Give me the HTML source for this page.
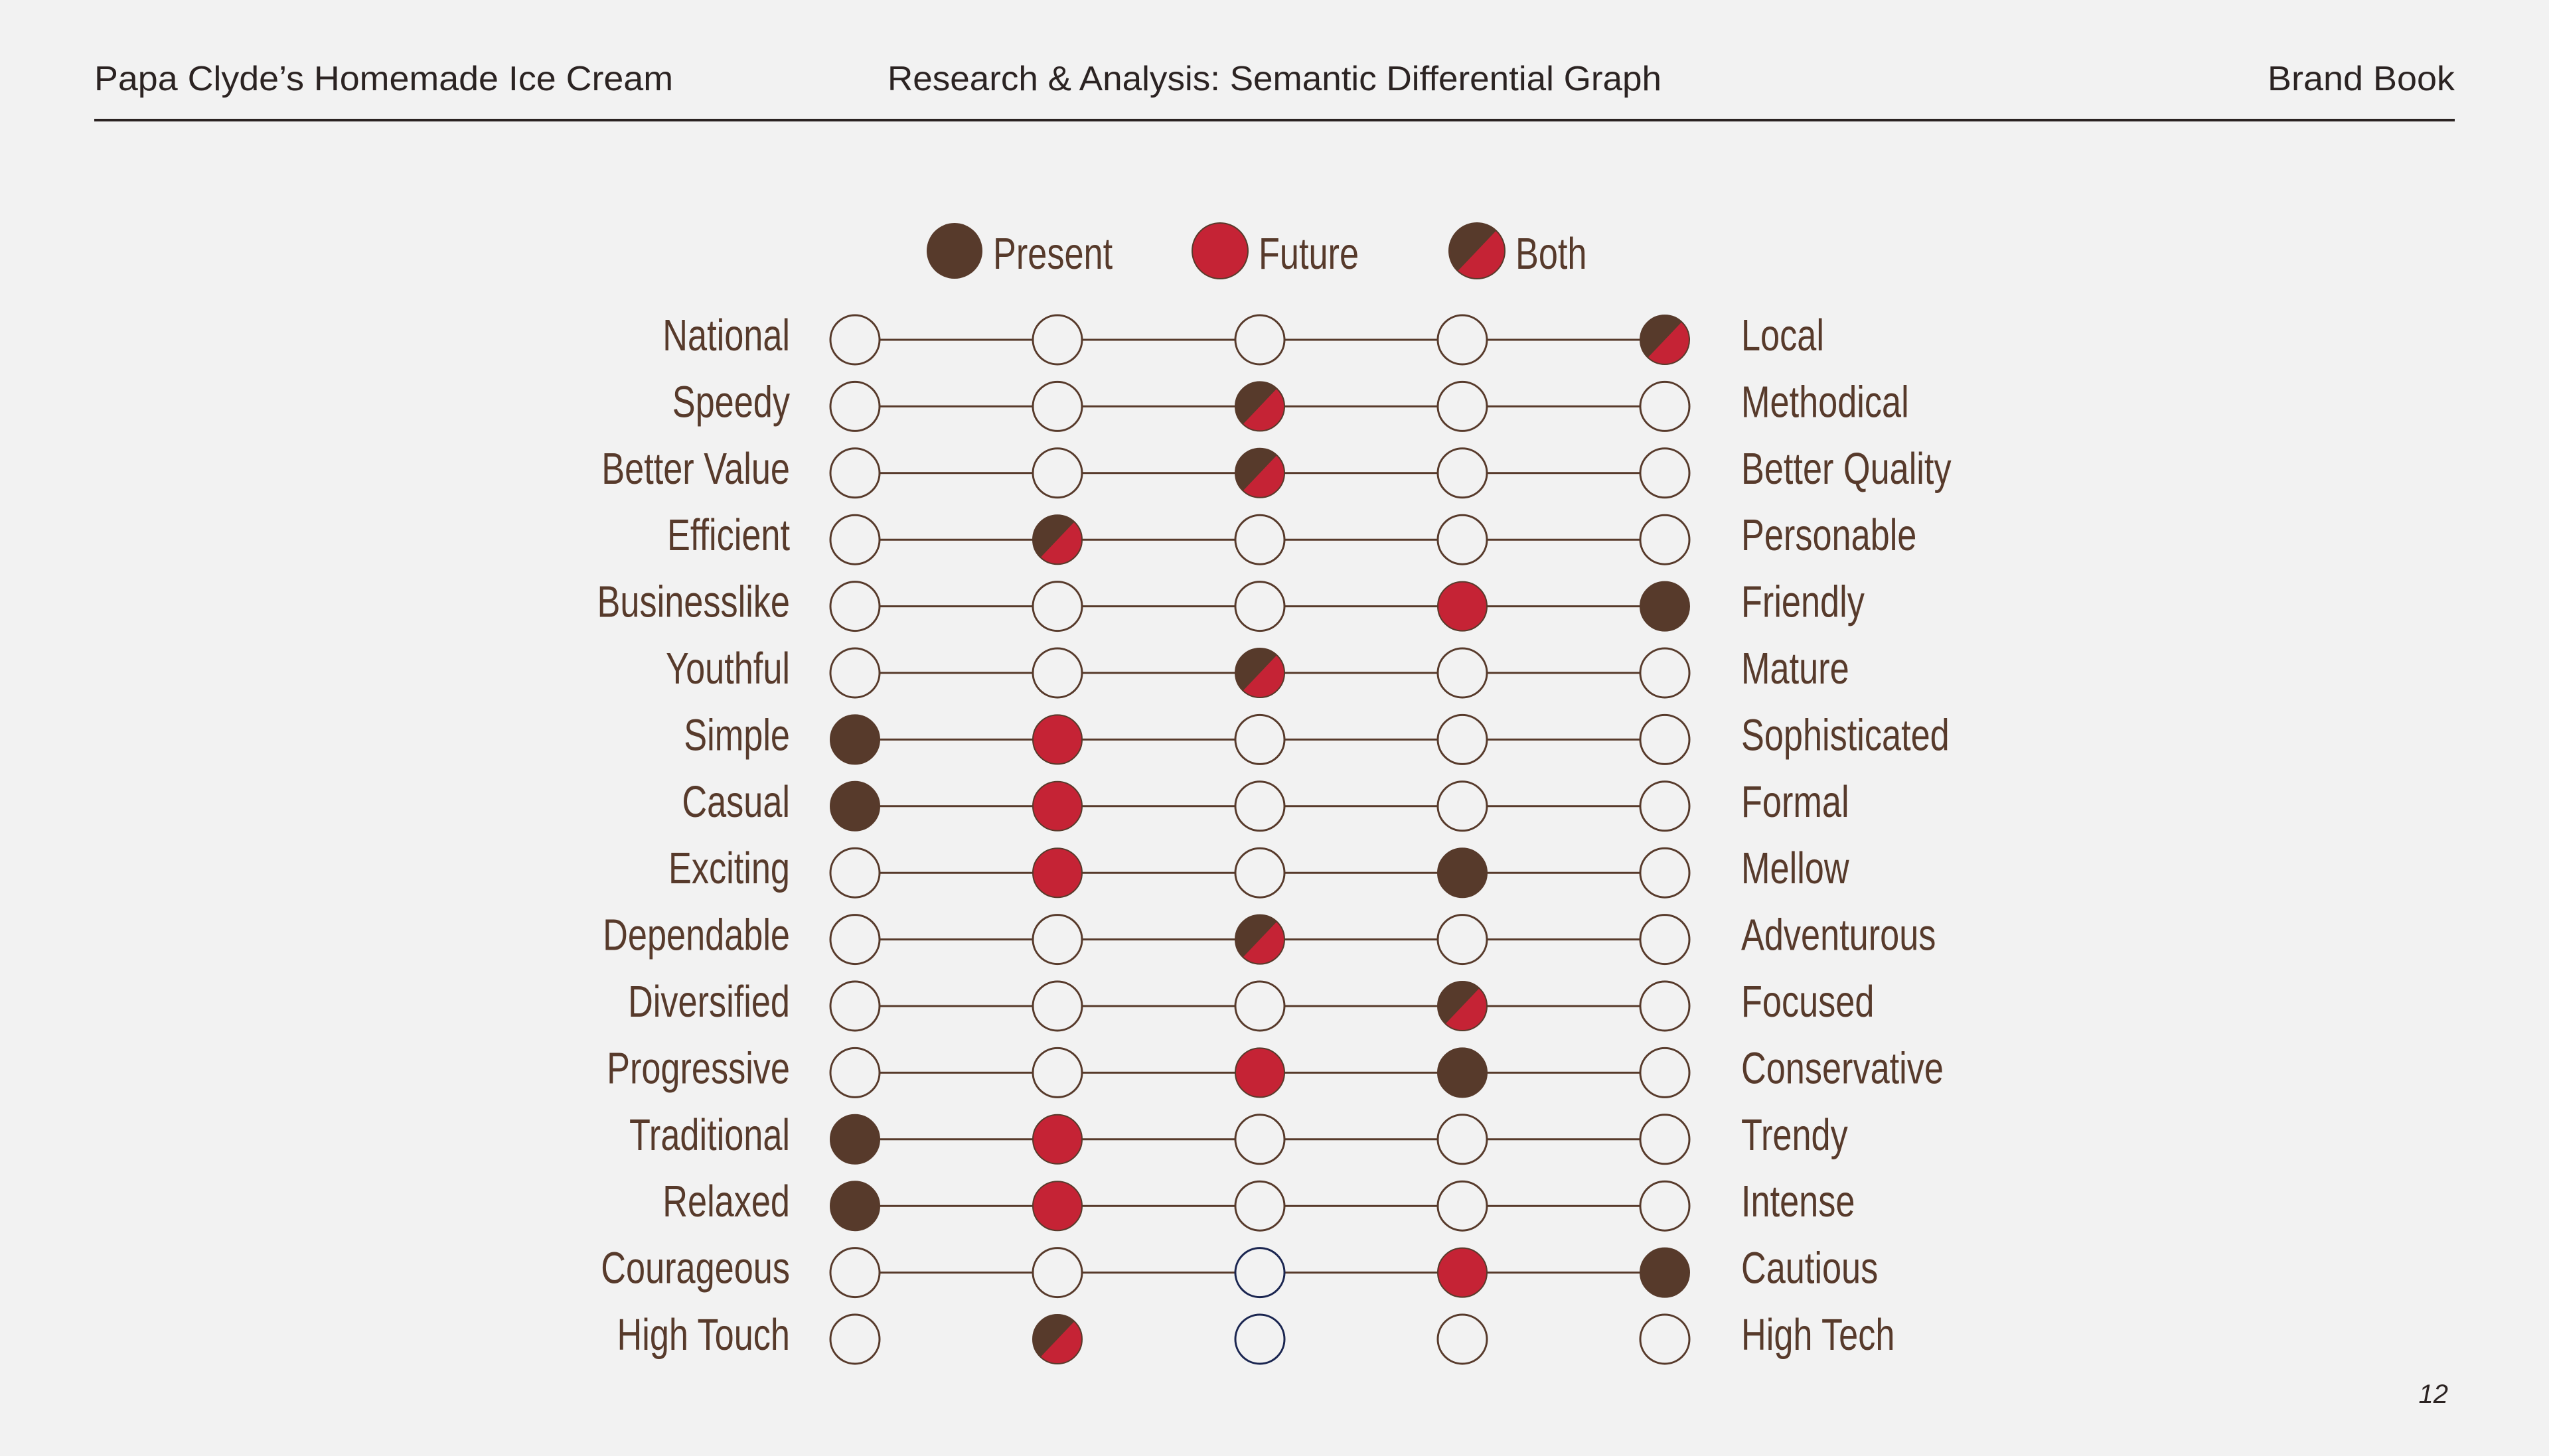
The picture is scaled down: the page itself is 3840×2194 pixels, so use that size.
<!DOCTYPE html>
<html>
<head>
<meta charset="utf-8">
<style>
  html,body{margin:0;padding:0;background:#f2f2f2;}
  svg{display:block;}
  .hdr{font-family:"Liberation Sans",sans-serif;fill:#2b2322;font-size:52px;}
  .lbl{font-family:"Liberation Sans",sans-serif;fill:#573a2b;font-size:67px;}
</style>
</head>
<body>
<svg id="chart" width="3840" height="2194" viewBox="0 0 3840 2194" xmlns="http://www.w3.org/2000/svg">
  <rect width="3840" height="2194" fill="#f2f2f2"/>
  <text class="hdr" x="142" y="136" textLength="872" lengthAdjust="spacingAndGlyphs">Papa Clyde’s Homemade Ice Cream</text>
  <text class="hdr" x="1337" y="136" textLength="1166" lengthAdjust="spacingAndGlyphs">Research &amp; Analysis: Semantic Differential Graph</text>
  <text class="hdr" x="3698" y="136" text-anchor="end" textLength="282" lengthAdjust="spacingAndGlyphs">Brand Book</text>
  <rect x="142" y="179" width="3556" height="4" fill="#2b2322"/>
  <text x="3688" y="2114" text-anchor="end" font-family="Liberation Sans, sans-serif" font-style="italic" font-size="40" fill="#2b2322">12</text>
  <g id="legend"></g>
  <g id="rows"></g>
</svg>
<script>
const leftLabels = ["National","Speedy","Better Value","Efficient","Businesslike","Youthful","Simple","Casual","Exciting","Dependable","Diversified","Progressive","Traditional","Relaxed","Courageous","High Touch"];
const rightLabels = ["Local","Methodical","Better Quality","Personable","Friendly","Mature","Sophisticated","Formal","Mellow","Adventurous","Focused","Conservative","Trendy","Intense","Cautious","High Tech"];
const presentPos = [4,2,2,1,4,2,0,0,3,2,3,3,0,0,4,1];
const futurePos  = [4,2,2,1,3,2,1,1,1,2,3,2,1,1,3,1];
const legendItems = ["Present","Future","Both"];

const BROWN="#573a2b", RED="#c52335", BG="#f2f2f2", NAVY="#1a2550";
const NS="http://www.w3.org/2000/svg";
const colX = i => 1288 + i*305;
const rowY = i => 512 + i*100.4;
const R = 37;
const SX = 0.78;

function mk(tag, attrs, parent){
  const e=document.createElementNS(NS,tag);
  for(const k in attrs) e.setAttribute(k,attrs[k]);
  parent.appendChild(e); return e;
}
function label(parent,x,y,txt,anchor){
  const t=mk("text",{class:"lbl",x:0,y:0,"text-anchor":anchor,transform:`translate(${x},${y}) scale(${SX},1)`},parent);
  t.textContent=txt;
  return t;
}
function both(g,cx,cy,r){
  const cid="c"+Math.round(cx)+"_"+Math.round(cy);
  const cp=mk("clipPath",{id:cid},g);
  mk("circle",{cx:cx,cy:cy,r:r},cp);
  const grp=mk("g",{"clip-path":"url(#"+cid+")"},g);
  mk("rect",{x:cx-r,y:cy-r,width:2*r,height:2*r,fill:RED},grp);
  mk("polygon",{points:`${cx-r},${cy-r} ${cx+r*0.95},${cy-r} ${cx-r*0.95},${cy+r}`,fill:BROWN},grp);
  mk("circle",{cx:cx,cy:cy,r:r,fill:"none",stroke:BROWN,"stroke-width":2},g);
}

const rowsG=document.getElementById("rows");
leftLabels.forEach((lab,i)=>{
  const y=rowY(i);
  const g=mk("g",{},rowsG);
  
  
  const lt=label(g,1190,y+16,lab,"end");
  
  
  const rt=label(g,2623,y+16,rightLabels[i],"start");
  
  
  if(i<leftLabels.length-1){
    const ln=mk("line",{x1:colX(0),x2:colX(4),y1:y,y2:y,stroke:BROWN,"stroke-width":3},g);
    
    
  }
  for(let c=0;c<5;c++){
    const cx=colX(c);
    const p=presentPos[i]===c, f=futurePos[i]===c;
    const cg=mk("g",{},g);
    
    
    if(p&&f){ both(cg,cx,y,R); }
    else if(p){ mk("circle",{cx:cx,cy:y,r:R,fill:BROWN,stroke:BROWN,"stroke-width":2},cg); }
    else if(f){ mk("circle",{cx:cx,cy:y,r:R,fill:RED,stroke:BROWN,"stroke-width":2},cg); }
    else{
      const navy = c===2 && i>=leftLabels.length-2;
      mk("circle",{cx:cx,cy:y,r:R,fill:BG,stroke:navy?NAVY:BROWN,"stroke-width":3},cg);
    }
  }
});

const legG=document.getElementById("legend");
const legX=[1438,1838,2225];
legendItems.forEach((name,i)=>{
  const g=mk("g",{},legG);
  
  
  const cx=legX[i], cy=378, r=42;
  if(i===0) mk("circle",{cx:cx,cy:cy,r:r,fill:BROWN},g);
  else if(i===1) mk("circle",{cx:cx,cy:cy,r:r,fill:RED,stroke:BROWN,"stroke-width":2},g);
  else both(g,cx,cy,r);
  label(g,cx+58,405,name,"start");
});
</script>
</body>
</html>
